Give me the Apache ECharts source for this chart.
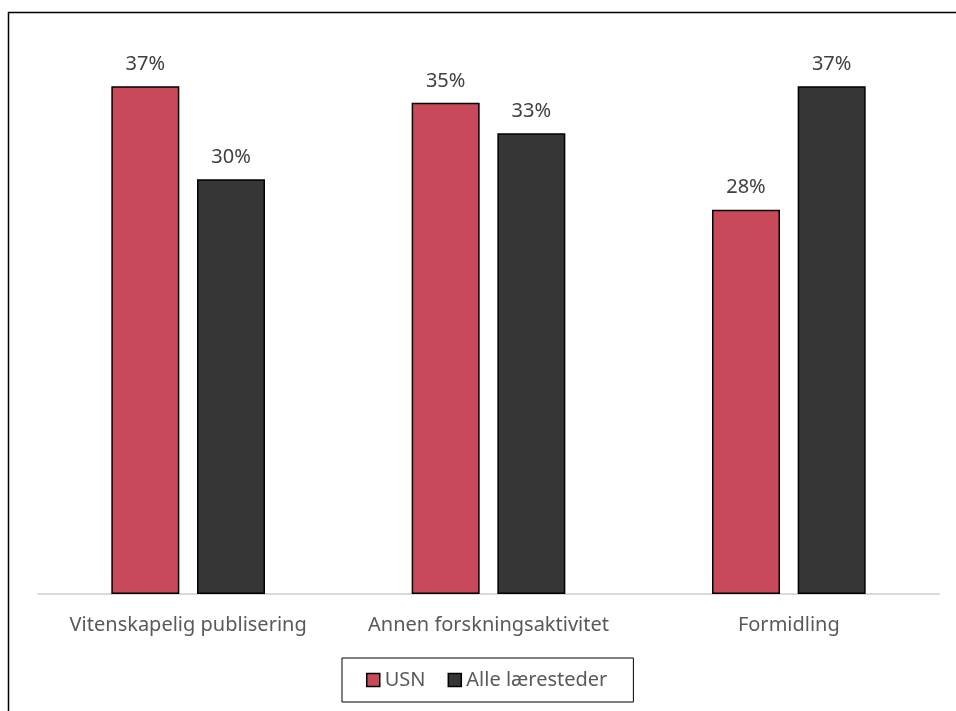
<!DOCTYPE html>
<html>
<head>
<meta charset="utf-8">
<script src="https://cdn.jsdelivr.net/npm/echarts@6/dist/echarts.min.js"></script>
<style>
  html, body { margin: 0; padding: 0; background: #fff; }
  #chart { width: 956px; height: 711px; }
</style>
</head>
<body>
<div id="chart"></div>
<script>
// kategorier og verdier (lest av figuren)
var categories = ['Vitenskapelig publisering', 'Annen forskningsaktivitet', 'Formidling']
var usnValues = [36.6, 35.4, 27.7]
var alleValues = [29.9, 33.2, 36.6]
var seriesNames = ['USN', 'Alle læresteder']

var myChart = echarts.init(document.getElementById('chart'))

var labelFont = 'Noto Sans, sans-serif'

function barSeries(name, data, color) {
  return {
    name: name,
    type: 'bar',
    data: data,
    barWidth: 68,
    barGap: '26%',
    itemStyle: {
      color: color,
      borderColor: '#000',
      borderWidth: 1.5,
    },
    label: {
      show: true,
      position: 'top',
      distance: 12,
      color: '#404040',
      fontSize: 20,
      fontFamily: labelFont,
      formatter: function (p) {
        return Math.round(p.value) + '%'
      },
    },
  }
}

var option = {
  backgroundColor: '#fff',
  animation: false,
  // ytre ramme
  graphic: [
    {
      type: 'rect',
      shape: { x: 8.5, y: 12.5, width: 1200, height: 1200 },
      style: { fill: 'none', stroke: '#000', lineWidth: 1.5 },
      silent: true,
    },
  ],
  grid: {
    left: 38,
    right: 17,
    top: 39,
    bottom: 117,
  },
  legend: {
    bottom: 9,
    left: 342,
    itemWidth: 13,
    itemHeight: 13,
    itemGap: 22,
    icon: 'rect',
    padding: [12, 26, 12, 24],
    borderColor: '#000',
    borderWidth: 1,
    textStyle: {
      color: '#595959',
      fontSize: 20,
      fontFamily: labelFont,
    },
    itemStyle: {
      borderColor: '#000',
      borderWidth: 1.5,
    },
    data: seriesNames,
  },
  xAxis: {
    type: 'category',
    data: categories,
    axisLine: { lineStyle: { color: '#d9d9d9', width: 2 } },
    axisTick: { show: false },
    axisLabel: {
      interval: 0,
      color: '#595959',
      fontSize: 20,
      fontFamily: labelFont,
      margin: 21,
    },
  },
  yAxis: {
    type: 'value',
    min: 0,
    max: 40,
    show: false,
    splitLine: { show: false },
  },
  series: [
    barSeries(seriesNames[0], usnValues, '#c84a5a'),
    barSeries(seriesNames[1], alleValues, '#363636'),
  ],
}

myChart.setOption(option)
</script>
</body>
</html>
